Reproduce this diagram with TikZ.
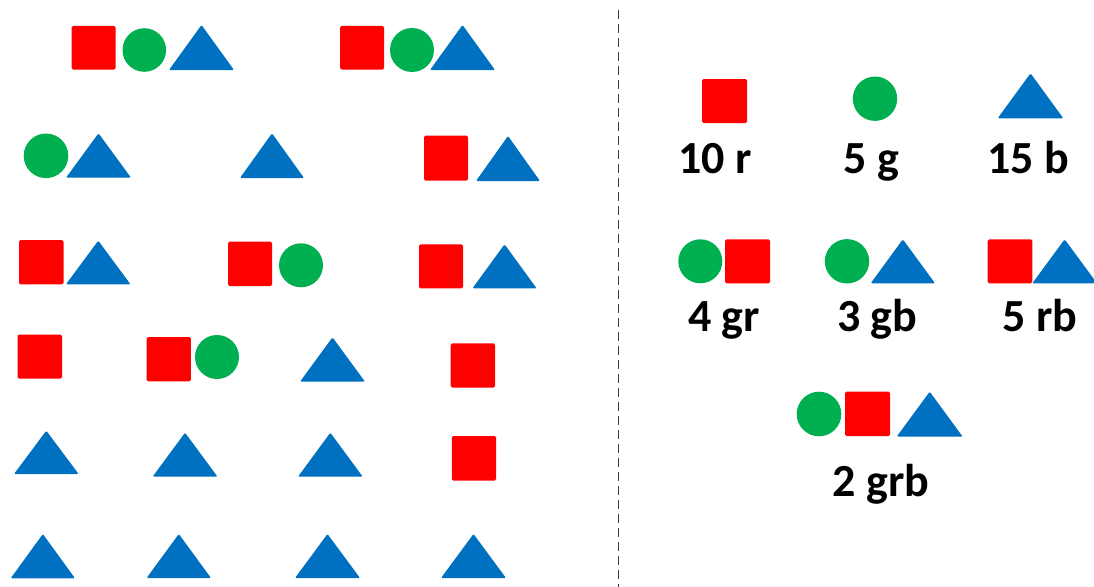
\documentclass[tikz,border=0pt]{standalone}
\usepackage{fontspec}
\setmainfont{Carlito}
\definecolor{shred}{HTML}{FF0000}
\definecolor{shgreen}{HTML}{00B050}
\definecolor{shblue}{HTML}{0070C0}
\tikzset{
  redsq/.style={fill=shred, rounded corners=1.5pt},
  greenci/.style={fill=shgreen},
  bluetr/.style={fill=shblue, rounded corners=1.2pt},
  countlabel/.style={anchor=base, inner sep=0pt, font=\fontsize{46}{50}\selectfont\bfseries},
  divider/.style={draw=black!75, line width=1pt, dash pattern=on 9pt off 5pt}
}
\newcommand\shsq[4]{\fill[redsq] (#1,#2) rectangle (#3,#4);}
\newcommand\shci[3]{\fill[greenci] (#1,#2) circle[radius=#3];}
\newcommand\shtr[4]{\fill[bluetr] (#1,#4) -- ({(#1+#2)/2},#3) -- (#2,#4) -- cycle;}
\begin{document}
\begin{tikzpicture}[x=1pt,y=-1pt]
\clip (0,0) rectangle (1094,586);
\fill[white] (0,0) rectangle (1094,586);
% ---- left panel ----
% row 1
\shsq{71.5}{26}{115.7}{69.5}
\shci{144.3}{50}{21.8}
\shtr{169}{234}{25}{70}
\shsq{340}{26}{384}{69.5}
\shci{412}{50}{22}
\shtr{430}{495}{25}{70}
% row 2
\shci{46}{155.8}{22.3}
\shtr{66}{131}{133.3}{177.7}
\shtr{240}{304}{133.3}{178}
\shsq{424}{135.7}{468}{180.7}
\shtr{476}{540}{136}{181}
% row 3
\shsq{19}{240}{63.5}{284.3}
\shtr{66}{130.5}{240.7}{284.3}
\shsq{228}{241.7}{272}{286}
\shci{301}{265.3}{22}
\shsq{419}{244.3}{463}{288.3}
\shtr{472.5}{536.6}{244.3}{288.3}
% row 4
\shsq{17.5}{334.7}{62}{378.7}
\shsq{146.6}{337}{190.8}{381.3}
\shci{217}{357}{22}
\shtr{300}{365}{337.3}{381.7}
\shsq{450.7}{343.3}{495}{387.7}
% row 5
\shtr{14}{78.6}{430.7}{474}
\shtr{152.6}{217.5}{432.7}{476.7}
\shtr{298}{362.7}{432.7}{476.7}
\shsq{451.8}{436}{496}{480.7}
% row 6
\shtr{10.7}{75}{534}{578.3}
\shtr{146.6}{211}{534}{578}
\shtr{295}{360}{534}{578}
\shtr{441}{506}{534}{578}
% ---- divider ----
\coordinate (divtop) at (618,10);
\coordinate (divbot) at (618,590);
\draw[divider] (divtop) -- (divbot);
% ---- right panel ----
\shsq{702}{79}{747}{123}
\shci{875}{98.7}{22.2}
\shtr{997.7}{1063.3}{73.3}{118.3}
\node[countlabel] (r10) at (715,173.5) {10 r};
\node[countlabel] (g5) at (871.5,173.5) {5 g};
\node[countlabel] (b15) at (1028,173.5) {15 b};
\shci{700.3}{261.3}{22}
\shsq{725}{239.3}{770}{283.3}
\shci{847}{261.3}{22.2}
\shtr{870.7}{935}{239.3}{283.3}
\shsq{987.7}{239.3}{1032.3}{283.3}
\shtr{1032.3}{1097}{239.3}{283.3}
\node[countlabel] (gr4) at (724,331.7) {4 gr};
\node[countlabel] (gb3) at (877.3,331.7) {3 gb};
\node[countlabel] (rb5) at (1040,331.7) {5 rb};
\shci{819}{414}{22.3}
\shsq{845}{391.7}{890}{436}
\shtr{896.7}{962.7}{391.7}{436.7}
\node[countlabel] (grb2) at (881,496.7) {2 grb};
\end{tikzpicture}
\end{document}
